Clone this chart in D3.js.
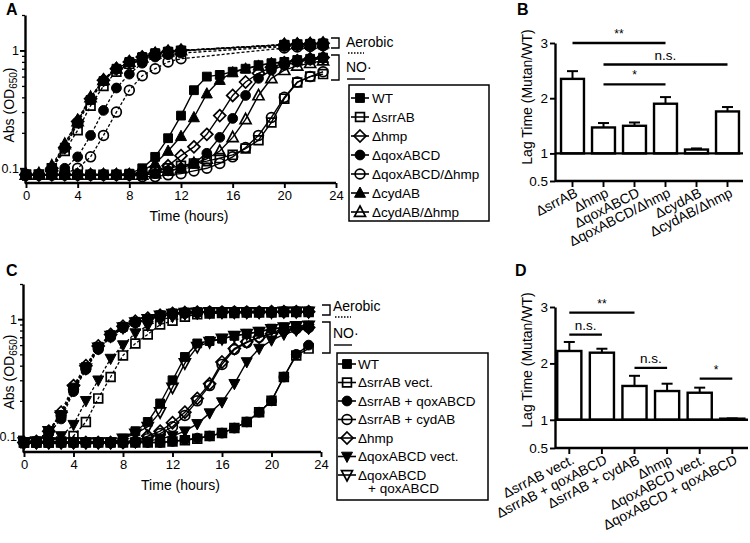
<!DOCTYPE html>
<html><head><meta charset="utf-8">
<script src="https://cdn.jsdelivr.net/npm/d3@7"></script>
<style>body{margin:0;background:#fff} text{font-family:"Liberation Sans",Arial,Helvetica,sans-serif;fill:#000}</style>
</head><body><svg id="c" width="750" height="543"></svg>
<script>
// ---------------- DATA ----------------
const hours = [0,1,2,3,4,5,6,7,8,9,10,11,12,13,14,15,16,17,18,19,20,21,22,23];
const aerHoursA = [0,1,2,3,4,5,6,7,8,9,10,11,12,20,21,22,23];
const xTickVals = [0,4,8,12,16,20,24];
const yMajorGrowth = [0.1,1];
const yMinorGrowth = [0.08,0.09,0.2,0.3,0.4,0.5,0.6,0.7,0.8,0.9,2];

// Panel A strains
const strainsA = ["WT","ΔsrrAB","Δhmp","ΔqoxABCD","ΔqoxABCD/Δhmp","ΔcydAB","ΔcydAB/Δhmp"];
// aerobic (hours in aerHoursA)
const aerA_WT     = [0.088,0.088,0.10,0.15,0.24,0.38,0.55,0.70,0.80,0.88,0.95,0.98,1.00,1.12,1.13,1.14,1.15];
const aerA_srrAB  = [0.088,0.088,0.10,0.14,0.21,0.34,0.50,0.66,0.77,0.86,0.92,0.96,0.99,1.10,1.12,1.12,1.13];
const aerA_hmp    = [0.088,0.088,0.10,0.15,0.25,0.39,0.56,0.70,0.80,0.88,0.94,0.98,1.00,1.12,1.13,1.14,1.15];
const aerA_qox    = [0.088,0.088,0.09,0.10,0.125,0.19,0.31,0.48,0.63,0.78,0.88,0.92,0.95,1.08,1.10,1.10,1.12];
const aerA_qoxhmp = [0.088,0.088,0.088,0.09,0.10,0.125,0.19,0.30,0.46,0.61,0.70,0.80,0.85,1.05,1.07,1.08,1.10];
const aerA_cyd    = [0.088,0.088,0.10,0.16,0.26,0.40,0.57,0.71,0.80,0.88,0.94,0.98,1.00,1.12,1.13,1.14,1.15];
const aerA_cydhmp = [0.088,0.09,0.105,0.16,0.25,0.40,0.56,0.70,0.80,0.87,0.94,0.98,1.00,1.12,1.13,1.14,1.15];
// NO (hours 0-23)
const noA_WT     = [0.088,0.088,0.088,0.088,0.088,0.088,0.088,0.088,0.09,0.10,0.125,0.18,0.28,0.46,0.60,0.62,0.66,0.70,0.75,0.78,0.80,0.83,0.85,0.87];
const noA_srrAB  = [0.088,0.088,0.088,0.088,0.088,0.088,0.088,0.088,0.088,0.09,0.095,0.10,0.105,0.11,0.115,0.122,0.13,0.147,0.173,0.245,0.39,0.535,0.60,0.63];
const noA_hmp    = [0.088,0.088,0.088,0.088,0.088,0.088,0.088,0.088,0.088,0.09,0.095,0.105,0.128,0.152,0.194,0.28,0.415,0.54,0.64,0.72,0.78,0.82,0.85,0.87];
const noA_qox    = [0.088,0.088,0.088,0.088,0.088,0.088,0.088,0.088,0.088,0.088,0.09,0.095,0.10,0.11,0.134,0.183,0.265,0.415,0.58,0.68,0.75,0.80,0.83,0.86];
const noA_qoxhmp = [0.088,0.088,0.088,0.088,0.088,0.088,0.088,0.088,0.088,0.085,0.085,0.088,0.09,0.095,0.10,0.11,0.125,0.15,0.19,0.27,0.40,0.54,0.60,0.66];
const noA_cyd    = [0.088,0.088,0.088,0.088,0.088,0.088,0.088,0.088,0.088,0.095,0.11,0.14,0.187,0.27,0.43,0.56,0.65,0.70,0.74,0.78,0.80,0.82,0.85,0.86];
const noA_cydhmp = [0.088,0.088,0.088,0.088,0.088,0.088,0.088,0.088,0.088,0.088,0.09,0.095,0.10,0.11,0.12,0.14,0.183,0.26,0.415,0.58,0.68,0.74,0.78,0.82];

// Panel C strains
const strainsC = ["WT","ΔsrrAB vect.","ΔsrrAB + qoxABCD","ΔsrrAB + cydAB","Δhmp","ΔqoxABCD vect.","ΔqoxABCD"];
const aerC_WT   = [0.088,0.09,0.11,0.15,0.26,0.39,0.58,0.73,0.86,0.95,1.00,1.08,1.12,1.14,1.15,1.15,1.15,1.15,1.15,1.15,1.15,1.16,1.16,1.16];
const aerC_srrV = [0.088,0.088,0.088,0.09,0.10,0.132,0.21,0.32,0.49,0.62,0.74,0.90,0.97,1.05,1.10,1.12,1.13,1.13,1.14,1.14,1.14,1.15,1.15,1.15];
const aerC_srrQ = [0.088,0.09,0.105,0.14,0.24,0.37,0.55,0.70,0.84,0.93,1.00,1.06,1.10,1.13,1.14,1.14,1.15,1.15,1.15,1.15,1.15,1.15,1.16,1.16];
const aerC_srrC = [0.088,0.09,0.11,0.15,0.25,0.38,0.56,0.72,0.85,0.94,1.00,1.07,1.11,1.13,1.14,1.15,1.15,1.15,1.15,1.15,1.15,1.16,1.16,1.16];
const aerC_hmp  = [0.088,0.09,0.11,0.16,0.27,0.40,0.59,0.74,0.87,0.96,1.02,1.08,1.12,1.14,1.15,1.15,1.15,1.15,1.15,1.15,1.16,1.16,1.16,1.16];
const aerC_qoxV = [0.088,0.088,0.088,0.10,0.125,0.20,0.30,0.46,0.60,0.76,0.88,0.98,1.05,1.10,1.12,1.13,1.14,1.14,1.14,1.15,1.15,1.15,1.15,1.15];
const aerC_qoxQ = [0.088,0.09,0.11,0.15,0.25,0.38,0.57,0.72,0.85,0.94,1.00,1.07,1.11,1.13,1.14,1.15,1.15,1.15,1.15,1.15,1.15,1.16,1.16,1.16];
const noC_WT   = [0.088,0.088,0.088,0.088,0.088,0.088,0.088,0.088,0.095,0.11,0.132,0.19,0.30,0.475,0.62,0.65,0.68,0.72,0.75,0.78,0.83,0.85,0.87,0.88];
const noC_srrV = [0.088,0.088,0.088,0.088,0.088,0.088,0.088,0.088,0.088,0.088,0.088,0.088,0.09,0.092,0.095,0.10,0.106,0.117,0.132,0.16,0.20,0.32,0.49,0.56];
const noC_srrQ = [0.088,0.088,0.088,0.088,0.088,0.088,0.088,0.088,0.088,0.088,0.088,0.088,0.09,0.093,0.096,0.10,0.106,0.117,0.132,0.16,0.20,0.32,0.50,0.60];
const noC_srrC = [0.088,0.088,0.088,0.088,0.088,0.088,0.088,0.088,0.088,0.09,0.095,0.105,0.12,0.15,0.20,0.27,0.41,0.55,0.63,0.70,0.75,0.80,0.83,0.85];
const noC_hmp  = [0.088,0.088,0.088,0.088,0.088,0.088,0.088,0.088,0.088,0.09,0.10,0.11,0.13,0.16,0.21,0.28,0.43,0.56,0.64,0.70,0.75,0.80,0.83,0.85];
const noC_qoxV = [0.088,0.088,0.088,0.088,0.088,0.088,0.088,0.088,0.088,0.088,0.09,0.095,0.10,0.11,0.127,0.157,0.195,0.28,0.43,0.56,0.66,0.74,0.80,0.83];
const noC_qoxQ = [0.088,0.088,0.088,0.088,0.088,0.088,0.088,0.088,0.095,0.105,0.12,0.16,0.26,0.42,0.58,0.64,0.68,0.72,0.75,0.78,0.82,0.85,0.87,0.88];

// Panel B
const catsB = ["ΔsrrAB","Δhmp","ΔqoxABCD","ΔqoxABCD/Δhmp","ΔcydAB","ΔcydAB/Δhmp"];
const lagB  = [2.35,1.47,1.50,1.90,1.07,1.76];
const semB  = [0.14,0.08,0.06,0.12,0.02,0.08];
const sigB  = [{a:0,b:3,label:"**",level:3.0},{a:1,b:5,label:"n.s.",level:2.61},{a:1,b:3,label:"*",level:2.25}];
// Panel D
const catsD = ["ΔsrrAB vect.","ΔsrrAB + qoxABCD","ΔsrrAB + cydAB","Δhmp","ΔqoxABCD vect.","ΔqoxABCD + qoxABCD"];
const lagD  = [2.22,2.19,1.60,1.51,1.48,1.02];
const semD  = [0.16,0.07,0.18,0.13,0.09,0.005];
const sigD  = [{a:0,b:2,label:"**",level:2.9},{a:0,b:1,label:"n.s.",level:2.51},{a:2,b:3,label:"n.s.",level:1.92},{a:4,b:5,label:"*",level:1.73}];
const lagTicks = [0.5,1,2,3];

// ---------------- DRAWING ----------------
const svg = d3.select("#c");
const SW = 2.4;

function symPath(kind){
  switch(kind){
    case "square": return "M-4.4,-4.4H4.4V4.4H-4.4Z";
    case "circle": return "M4.9,0A4.9,4.9 0 1,1 -4.9,0A4.9,4.9 0 1,1 4.9,0Z";
    case "diamond": return "M0,-6L6,0L0,6L-6,0Z";
    case "tri": return "M0,-6L5.5,4.3L-5.5,4.3Z";
    case "tridown": return "M0,6L5.5,-4.3L-5.5,-4.3Z";
  }
}
function drawSym(g, kind, filled, cx, cy){
  g.append("path").attr("d", symPath(kind)).attr("transform",`translate(${cx},${cy})`)
   .attr("fill", filled ? "#000" : "none").attr("stroke","#000").attr("stroke-width", filled?1:1.7);
}

function styleAxis(sel, fs){
  sel.select(".domain").attr("stroke","#000").attr("stroke-width",SW);
  sel.selectAll(".tick line").attr("stroke","#000").attr("stroke-width",SW*0.8);
  sel.selectAll(".tick text").attr("font-size",fs).attr("font-family",'"Liberation Sans",Arial,sans-serif');
}

function growth(cfg){
  const g = svg.append("g");
  const x = d3.scaleLinear().domain([0,24]).range(cfg.xr);
  const y = d3.scaleLog().domain(cfg.yd).range(cfg.yr);
  const line = d3.line().x(d=>x(d[0])).y(d=>y(d[1]));
  const sets = cfg.series.map(s=>({s,
    aer: cfg.aerHours.map((t,i)=>[t,s.aer[i]]),
    no: cfg.noHours.map((t,i)=>[t,s.no[i]])}));
  sets.forEach(o=>{
    g.append("path").attr("d",line(o.aer)).attr("fill","none").attr("stroke","#000").attr("stroke-width",1.3).attr("stroke-dasharray","3,2");
    g.append("path").attr("d",line(o.no)).attr("fill","none").attr("stroke","#000").attr("stroke-width",1.4);
  });
  // open markers first, filled on top
  [false,true].forEach(f=>{
    sets.filter(o=>o.s.filled===f).forEach(o=>{
      o.aer.concat(o.no).forEach(d=>drawSym(g,o.s.sym,o.s.filled,x(d[0]),y(d[1])));
    });
  });
  const axX = cfg.xr[0]-1;
  const ya = g.append("g").attr("transform",`translate(${axX},0)`)
    .call(d3.axisLeft(y).tickValues(yMajorGrowth).tickFormat(d=>d>=1?"1":"0.1").tickSize(5).tickSizeOuter(0).tickPadding(1));
  styleAxis(ya,12.5);
  const ym = g.append("g").attr("transform",`translate(${axX},0)`)
    .call(d3.axisLeft(y).tickValues(yMinorGrowth).tickFormat("").tickSize(3).tickSizeOuter(0));
  styleAxis(ym,12.5); ym.select(".domain").remove();
  ym.selectAll(".tick line").attr("stroke-width",1.3);
  const xa = g.append("g").attr("transform",`translate(0,${cfg.yr[0]})`)
    .call(d3.axisBottom(x).tickValues(xTickVals).tickFormat(d3.format("d")).tickSize(5).tickSizeOuter(0).tickPadding(3));
  styleAxis(xa,13);
  xa.select(".domain").attr("d",`M${axX},0H${cfg.xr[1]}`);
  // titles
  g.append("text").attr("x",(cfg.xr[0]+cfg.xr[1])/2+8).attr("y",cfg.yr[0]+38).attr("text-anchor","middle").attr("font-size",14).text("Time (hours)");
  const yl = g.append("text").attr("transform",`translate(${cfg.ylabX},${cfg.ylabY}) rotate(-90)`).attr("text-anchor","middle").attr("font-size",14);
  yl.append("tspan").text("Abs (OD");
  yl.append("tspan").attr("font-size",10).attr("dy",3).text("650");
  yl.append("tspan").attr("dy",-3).text(")");
  // brackets
  const b = cfg.br;
  g.append("path").attr("d",`M${b.x},${b.a0}H${b.x+8}V${b.a1}H${b.x}`).attr("fill","none").attr("stroke","#000").attr("stroke-width",1.4);
  g.append("path").attr("d",`M${b.x},${b.n0}H${b.x+8}V${b.n1}H${b.x}`).attr("fill","none").attr("stroke","#000").attr("stroke-width",1.4);
  g.append("text").attr("x",b.tx).attr("y",b.aTextY).attr("font-size",14).text("Aerobic");
  g.append("line").attr("x1",b.tx+2).attr("x2",b.tx+18).attr("y1",b.aLineY).attr("y2",b.aLineY).attr("stroke","#000").attr("stroke-width",1.3).attr("stroke-dasharray","1.5,1.5");
  g.append("text").attr("x",b.tx).attr("y",b.nTextY).attr("font-size",14).text("NO·");
  g.append("line").attr("x1",b.tx+1).attr("x2",b.tx+19).attr("y1",b.nLineY).attr("y2",b.nLineY).attr("stroke","#000").attr("stroke-width",1.4);
  // legend
  const L = cfg.leg;
  g.append("rect").attr("x",L.x).attr("y",L.y).attr("width",L.w).attr("height",L.h).attr("fill","#fff").attr("stroke","#000").attr("stroke-width",1.5);
  cfg.series.forEach((s,i)=>{
    const cy = L.y0 + i*L.dy;
    g.append("line").attr("x1",L.sx-9).attr("x2",L.sx+9).attr("y1",cy).attr("y2",cy).attr("stroke","#000").attr("stroke-width",1.6);
    drawSym(g,s.sym,s.filled,L.sx,cy);
    g.append("text").attr("x",L.tx).attr("y",cy).attr("dy","0.36em").attr("font-size",13.5).text(cfg.names[i]);
  });
  if (cfg.extraLine) g.append("text").attr("x",L.tx+10).attr("y",L.y0+cfg.series.length*L.dy-5).attr("dy","0.36em").attr("font-size",13.5).text(cfg.extraLine);
}

growth({
  xr:[26,336], yd:[0.075,2], yr:[183,15], aerHours:aerHoursA, noHours:hours,
  names: strainsA,
  series:[
    {sym:"square",filled:true,aer:aerA_WT,no:noA_WT},
    {sym:"square",filled:false,aer:aerA_srrAB,no:noA_srrAB},
    {sym:"diamond",filled:false,aer:aerA_hmp,no:noA_hmp},
    {sym:"circle",filled:true,aer:aerA_qox,no:noA_qox},
    {sym:"circle",filled:false,aer:aerA_qoxhmp,no:noA_qoxhmp},
    {sym:"tri",filled:true,aer:aerA_cyd,no:noA_cyd},
    {sym:"tri",filled:false,aer:aerA_cydhmp,no:noA_cydhmp}],
  ylabX:14, ylabY:105,
  br:{x:331,a0:38,a1:48,n0:55,n1:80,tx:346,aTextY:47,aLineY:53,nTextY:72,nLineY:79},
  leg:{x:349,y:85,w:140,h:136,y0:98,dy:19,sx:360,tx:372}
});

growth({
  xr:[24,321], yd:[0.073,2], yr:[452,284], aerHours:hours, noHours:hours,
  names: strainsC,
  series:[
    {sym:"square",filled:true,aer:aerC_WT,no:noC_WT},
    {sym:"square",filled:false,aer:aerC_srrV,no:noC_srrV},
    {sym:"circle",filled:true,aer:aerC_srrQ,no:noC_srrQ},
    {sym:"circle",filled:false,aer:aerC_srrC,no:noC_srrC},
    {sym:"diamond",filled:false,aer:aerC_hmp,no:noC_hmp},
    {sym:"tridown",filled:true,aer:aerC_qoxV,no:noC_qoxV},
    {sym:"tridown",filled:false,aer:aerC_qoxQ,no:noC_qoxQ}],
  extraLine:"+ qoxABCD",
  ylabX:14, ylabY:372,
  br:{x:322,a0:305,a1:315,n0:322,n1:353,tx:333,aTextY:311,aLineY:317,nTextY:338,nLineY:345},
  leg:{x:337,y:353,w:151,h:147,y0:364,dy:18.5,sx:347,tx:358}
});

function bars(cfg){
  const g = svg.append("g");
  const x = d3.scaleBand().domain(cfg.cats).range(cfg.xr).paddingInner(0.26).paddingOuter(0.13);
  const y = d3.scaleLinear().domain([0.5,3]).range(cfg.yr);
  const cx = c=>x(c)+x.bandwidth()/2;
  // bars
  cfg.cats.forEach((c,i)=>{
    const top = y(cfg.mean[i]), et = y(cfg.mean[i]+cfg.sem[i]);
    g.append("line").attr("x1",cx(c)).attr("x2",cx(c)).attr("y1",top).attr("y2",et).attr("stroke","#000").attr("stroke-width",2);
    g.append("line").attr("x1",cx(c)-5.5).attr("x2",cx(c)+5.5).attr("y1",et).attr("y2",et).attr("stroke","#000").attr("stroke-width",2);
    g.append("rect").attr("x",x(c)).attr("y",top).attr("width",x.bandwidth()).attr("height",y(1)-top)
      .attr("fill","#fff").attr("stroke","#000").attr("stroke-width",SW);
  });
  // baseline at 1
  g.append("line").attr("x1",cfg.axX).attr("x2",cfg.xEnd).attr("y1",y(1)).attr("y2",y(1)).attr("stroke","#000").attr("stroke-width",SW);
  // y axis
  const ya = g.append("g").attr("transform",`translate(${cfg.axX},0)`)
    .call(d3.axisLeft(y).tickValues(lagTicks).tickFormat(d=>d===0.5?"0.5":String(d)).tickSize(5).tickSizeOuter(0).tickPadding(2));
  styleAxis(ya,13.5);
  // x axis
  g.append("line").attr("x1",cfg.axX).attr("x2",cfg.xEnd).attr("y1",y(0.5)).attr("y2",y(0.5)).attr("stroke","#000").attr("stroke-width",SW);
  cfg.cats.forEach(c=>{
    g.append("line").attr("x1",cx(c)).attr("x2",cx(c)).attr("y1",y(0.5)).attr("y2",y(0.5)+6).attr("stroke","#000").attr("stroke-width",SW*0.8);
    g.append("text").attr("transform",`translate(${cx(c)+6},${y(0.5)+15}) rotate(-27)`).attr("text-anchor","end").attr("font-size",14).text(c);
  });
  // significance
  cfg.sig.forEach(s=>{
    const x1 = cx(cfg.cats[s.a]), x2 = cx(cfg.cats[s.b]) + (s.ext||0);
    g.append("line").attr("x1",x1).attr("x2",x2).attr("y1",y(s.level)).attr("y2",y(s.level)).attr("stroke","#000").attr("stroke-width",SW);
    g.append("text").attr("x",(x1+x2)/2).attr("y",y(s.level)-5).attr("text-anchor","middle").attr("font-size",s.label==="n.s."?13.5:12).text(s.label);
  });
  g.append("text").attr("transform",`translate(${cfg.labX},${cfg.labY}) rotate(-90)`).attr("text-anchor","middle").attr("font-size",14).text("Lag Time (Mutan/WT)");
}

bars({cats:catsB, mean:lagB, sem:semB, sig:sigB, xr:[557,743], yr:[181,43], axX:555, xEnd:743, labX:532, labY:97});
bars({cats:catsD, mean:lagD, sem:semD, sig:sigD, xr:[553,748.6], yr:[448,307], axX:555, xEnd:748, labX:532, labY:360});

// panel letters
[["A",6,15],["B",517,15],["C",6,276],["D",515,276]].forEach(p=>{
  svg.append("text").attr("x",p[1]).attr("y",p[2]).attr("font-size",16).attr("font-weight","bold").text(p[0]);
});
</script></body></html>
